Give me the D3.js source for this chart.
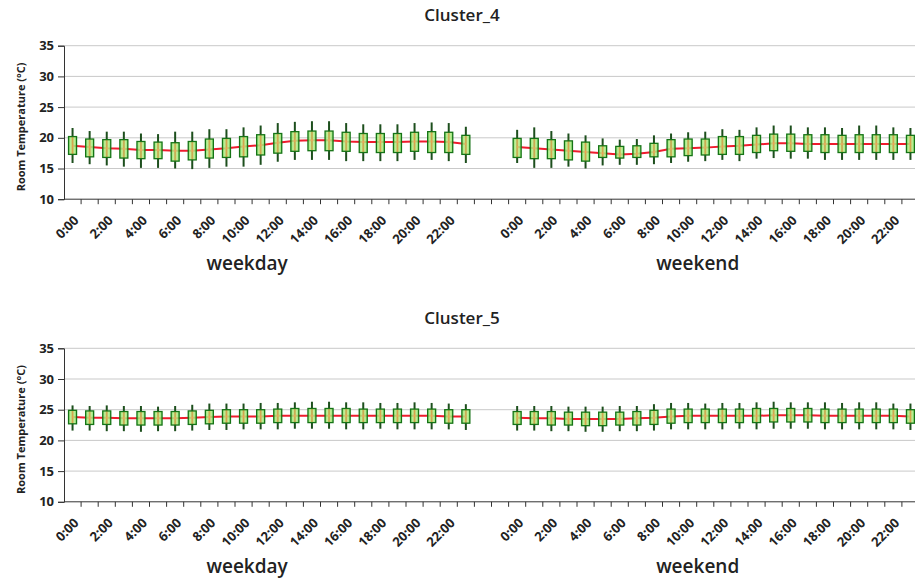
<!DOCTYPE html>
<html>
<head>
<meta charset="utf-8">
<script src="https://cdn.jsdelivr.net/npm/d3@7/dist/d3.min.js"></script>
<style>
  body { margin: 0; background: #fff; }
  svg { display: block; font-family: 'Open Sans', sans-serif; }
</style>
</head>
<body>
<div id="chart"></div>
<script>
// hours of the day, one box per hour
const hours = ['0:00', '1:00', '2:00', '3:00', '4:00', '5:00', '6:00', '7:00', '8:00', '9:00', '10:00', '11:00',
  '12:00', '13:00', '14:00', '15:00', '16:00', '17:00', '18:00', '19:00', '20:00', '21:00', '22:00', '23:00']
const periods = ['weekday', 'weekend']
const gapSlots = ['gap1', 'gap2']
const yTicks = [10, 15, 20, 25, 30, 35]
const clusterNames = ['Cluster_4', 'Cluster_5']

// Cluster_4 weekday
const c4WeekdayMean = [18.7, 18.5, 18.3, 18.2, 18.0, 18.0, 17.9, 17.9, 18.1, 18.3, 18.6, 18.8, 19.2, 19.5, 19.6, 19.6, 19.4, 19.3, 19.3, 19.3, 19.4, 19.4, 19.3, 19.0]
const c4WeekdayQ3 = [20.2, 19.8, 19.7, 19.7, 19.4, 19.3, 19.2, 19.4, 19.8, 19.9, 20.2, 20.5, 20.7, 21.0, 21.1, 21.1, 20.9, 20.7, 20.7, 20.7, 20.9, 21.0, 20.9, 20.4]
const c4WeekdayQ1 = [17.3, 16.9, 16.8, 16.7, 16.6, 16.6, 16.2, 16.4, 16.7, 16.8, 16.9, 17.2, 17.5, 17.8, 17.9, 17.9, 17.8, 17.6, 17.6, 17.6, 17.8, 17.6, 17.6, 17.3]
const c4WeekdayMax = [21.6, 21.1, 21.0, 21.0, 20.7, 20.6, 21.0, 21.0, 21.4, 21.4, 21.7, 22.0, 22.4, 22.6, 22.7, 22.7, 22.4, 22.2, 22.2, 22.2, 22.4, 22.5, 22.4, 21.8]
const c4WeekdayMin = [15.9, 15.7, 15.5, 15.3, 15.1, 15.1, 15.0, 14.9, 15.1, 15.3, 15.3, 15.6, 16.1, 16.4, 16.4, 16.4, 16.2, 16.2, 16.2, 16.2, 16.4, 16.4, 16.2, 15.9]

// Cluster_4 weekend
const c4WeekendMean = [18.5, 18.3, 18.1, 17.9, 17.7, 17.5, 17.3, 17.4, 17.7, 18.2, 18.3, 18.4, 18.6, 18.7, 18.9, 19.1, 19.1, 19.0, 19.0, 19.0, 19.0, 19.0, 19.0, 19.0]
const c4WeekendQ3 = [19.9, 19.9, 19.7, 19.5, 19.3, 18.7, 18.6, 18.7, 19.1, 19.7, 19.8, 19.8, 20.2, 20.2, 20.4, 20.6, 20.6, 20.5, 20.5, 20.4, 20.5, 20.5, 20.5, 20.4]
const c4WeekendQ1 = [16.8, 16.6, 16.6, 16.4, 16.2, 16.8, 16.7, 16.8, 16.9, 16.9, 17.1, 17.2, 17.3, 17.3, 17.6, 17.9, 17.8, 17.8, 17.6, 17.6, 17.6, 17.6, 17.6, 17.6]
const c4WeekendMax = [21.3, 21.7, 21.1, 20.7, 20.4, 19.9, 19.7, 19.8, 20.4, 20.7, 20.9, 21.0, 21.4, 21.3, 21.7, 22.0, 22.0, 21.7, 21.7, 21.6, 22.0, 22.0, 21.7, 21.6]
const c4WeekendMin = [15.9, 15.1, 15.1, 15.3, 15.0, 15.5, 15.6, 15.6, 15.7, 15.9, 16.1, 16.2, 16.4, 16.2, 16.6, 16.7, 16.6, 16.6, 16.4, 16.4, 16.4, 16.4, 16.4, 16.4]

// Cluster_5 weekday
const c5WeekdayMean = [23.8, 23.7, 23.7, 23.6, 23.6, 23.6, 23.6, 23.7, 23.8, 23.9, 23.9, 23.9, 24.0, 24.0, 24.0, 24.0, 24.0, 24.0, 24.0, 24.0, 24.0, 24.0, 23.9, 23.9]
const c5WeekdayQ3 = [24.9, 24.8, 24.8, 24.7, 24.7, 24.7, 24.7, 24.8, 24.9, 25.0, 25.0, 25.0, 25.1, 25.2, 25.2, 25.2, 25.2, 25.1, 25.1, 25.1, 25.1, 25.1, 25.0, 25.0]
const c5WeekdayQ1 = [22.7, 22.6, 22.6, 22.5, 22.5, 22.5, 22.5, 22.6, 22.7, 22.8, 22.8, 22.8, 22.9, 22.9, 22.9, 22.9, 22.9, 22.9, 22.9, 22.9, 22.9, 22.9, 22.8, 22.8]
const c5WeekdayMax = [25.7, 25.6, 25.7, 25.6, 25.6, 25.5, 25.6, 25.8, 26.0, 26.0, 26.0, 26.1, 26.1, 26.2, 26.3, 26.3, 26.2, 26.2, 26.1, 26.1, 26.2, 26.1, 26.0, 25.9]
const c5WeekdayMin = [21.6, 21.6, 21.5, 21.5, 21.4, 21.5, 21.5, 21.6, 21.7, 21.7, 21.8, 21.8, 21.8, 21.9, 21.9, 21.9, 21.8, 21.8, 21.9, 21.8, 21.8, 21.8, 21.8, 21.7]

// Cluster_5 weekend
const c5WeekendMean = [23.7, 23.6, 23.6, 23.5, 23.5, 23.5, 23.5, 23.6, 23.7, 23.9, 24.0, 24.0, 24.0, 24.0, 24.0, 24.1, 24.1, 24.1, 24.0, 24.0, 24.0, 24.0, 24.0, 23.9]
const c5WeekendQ3 = [24.7, 24.7, 24.7, 24.6, 24.6, 24.6, 24.6, 24.7, 24.9, 25.1, 25.1, 25.1, 25.1, 25.1, 25.2, 25.2, 25.2, 25.2, 25.1, 25.1, 25.1, 25.1, 25.1, 25.0]
const c5WeekendQ1 = [22.6, 22.6, 22.5, 22.5, 22.4, 22.4, 22.5, 22.5, 22.6, 22.8, 22.9, 22.9, 22.9, 22.9, 22.9, 23.0, 23.0, 23.0, 22.9, 22.9, 22.9, 22.9, 22.9, 22.8]
const c5WeekendMax = [25.6, 25.6, 25.6, 25.5, 25.5, 25.5, 25.6, 25.6, 25.9, 26.1, 26.1, 26.0, 26.1, 26.1, 26.2, 26.3, 26.2, 26.2, 26.2, 26.1, 26.2, 26.2, 26.0, 26.0]
const c5WeekendMin = [21.6, 21.6, 21.5, 21.5, 21.4, 21.4, 21.5, 21.5, 21.6, 21.8, 21.8, 21.8, 21.8, 21.9, 21.8, 21.9, 21.9, 21.9, 21.8, 21.8, 21.8, 21.8, 21.8, 21.7]

// build rows for each panel / period
const makeRows = (period, mean, q1, q3, min, max) =>
  hours.map((h, i) => ({ key: period + ' ' + h, hour: h, mean: mean[i], q1: q1[i], q3: q3[i], min: min[i], max: max[i] }))

const panels = [
  {
    title: clusterNames[0],
    series: [
      makeRows('weekday', c4WeekdayMean, c4WeekdayQ1, c4WeekdayQ3, c4WeekdayMin, c4WeekdayMax),
      makeRows('weekend', c4WeekendMean, c4WeekendQ1, c4WeekendQ3, c4WeekendMin, c4WeekendMax)
    ]
  },
  {
    title: clusterNames[1],
    series: [
      makeRows('weekday', c5WeekdayMean, c5WeekdayQ1, c5WeekdayQ3, c5WeekdayMin, c5WeekdayMax),
      makeRows('weekend', c5WeekendMean, c5WeekendQ1, c5WeekendQ3, c5WeekendMin, c5WeekendMax)
    ]
  }
]

const categories = [
  ...hours.map(h => 'weekday ' + h),
  ...gapSlots,
  ...hours.map(h => 'weekend ' + h)
]

const dims = {
  width: 915,
  height: 588,
  left: 64,
  band: 17.1,
  firstTop: 45.7,
  panelStep: 302.6,
  plotHeight: 153.5
}

const svg = d3.select('#chart')
  .append('svg')
  .attr('width', dims.width)
  .attr('height', dims.height)

// box fill: green edges, warm centre
const grad = svg.append('defs').append('linearGradient')
  .attr('id', 'boxFill')
  .attr('x1', '0%').attr('x2', '100%')
  .attr('y1', '0%').attr('y2', '0%')
grad.append('stop').attr('offset', '0%').attr('stop-color', '#6fe05a')
grad.append('stop').attr('offset', '30%').attr('stop-color', '#b9ec86')
grad.append('stop').attr('offset', '50%').attr('stop-color', '#f3b453')
grad.append('stop').attr('offset', '70%').attr('stop-color', '#b9ec86')
grad.append('stop').attr('offset', '100%').attr('stop-color', '#6fe05a')

const xScale = d3.scaleBand()
  .domain(categories)
  .range([dims.left, dims.left + categories.length * dims.band])
  .paddingInner(0)

const boxW = 8

panels.forEach((panel, pi) => {
  const top = dims.firstTop + pi * dims.panelStep
  const bottom = top + dims.plotHeight
  const g = svg.append('g')

  const yScale = d3.scaleLinear()
    .domain([10, 35])
    .range([bottom, top])

  // gridlines
  g.append('g')
    .selectAll('line')
    .data(yTicks.filter(t => t > 10))
    .join('line')
    .attr('x1', dims.left)
    .attr('x2', xScale.range()[1])
    .attr('y1', d => yScale(d))
    .attr('y2', d => yScale(d))
    .attr('stroke', '#c9c9c9')
    .attr('stroke-width', 1)

  // y axis
  const yAxis = d3.axisLeft(yScale).tickValues(yTicks).tickSize(6).tickPadding(4)
  const yAxisGroup = g.append('g')
    .attr('transform', `translate(${dims.left},0)`)
    .call(yAxis)
  yAxisGroup.select('.domain').attr('stroke', '#333')
  yAxisGroup.selectAll('.tick line').attr('stroke', '#333')
  yAxisGroup.selectAll('.tick text')
    .attr('font-family', "'Open Sans', sans-serif")
    .attr('font-size', '13px')
    .attr('font-weight', 'bold')
    .attr('fill', '#222')

  // y axis title
  g.append('text')
    .attr('transform', `translate(25,${(top + bottom) / 2 + 4.5}) rotate(-90)`)
    .attr('text-anchor', 'middle')
    .attr('font-size', '11px')
    .attr('font-weight', 'bold')
    .attr('fill', '#222')
    .text('Room Temperature (°C)')

  // x axis baseline and boundary ticks
  g.append('line')
    .attr('x1', dims.left)
    .attr('x2', xScale.range()[1])
    .attr('y1', bottom)
    .attr('y2', bottom)
    .attr('stroke', '#333')
  g.append('g')
    .selectAll('line')
    .data(categories)
    .join('line')
    .attr('x1', d => xScale(d) + xScale.bandwidth())
    .attr('x2', d => xScale(d) + xScale.bandwidth())
    .attr('y1', bottom)
    .attr('y2', bottom + 5)
    .attr('stroke', '#333')

  // hour labels every two hours
  const labelCats = categories.filter(c => {
    const h = c.split(' ')[1]
    return h && hours.indexOf(h) % 2 === 0
  })
  const xAxis = d3.axisBottom(xScale).tickValues(labelCats).tickSize(0).tickFormat(d => d.split(' ')[1])
  const xAxisGroup = g.append('g')
    .attr('transform', `translate(0,${bottom})`)
    .call(xAxis)
  xAxisGroup.select('.domain').remove()
  xAxisGroup.selectAll('.tick text')
    .attr('font-family', "'Open Sans', sans-serif")
    .attr('font-size', '13px')
    .attr('font-weight', 'bold')
    .attr('fill', '#222')
    .attr('text-anchor', 'end')
    .attr('y', 0)
    .attr('dy', 0)
    .attr('transform', 'translate(7,22) rotate(-45)')

  // period labels under the hours
  const periodOffset = [-5, 1]
  g.append('g')
    .selectAll('text')
    .data(periods)
    .join('text')
    .attr('x', (d, i) => xScale(d + ' 11:00') + periodOffset[i])
    .attr('y', bottom + 71)
    .attr('text-anchor', 'middle')
    .attr('font-size', '19px')
    .attr('font-weight', 600)
    .attr('fill', '#222')
    .text(d => d)

  // title
  g.append('text')
    .attr('x', 462)
    .attr('y', top - 24.5)
    .attr('text-anchor', 'middle')
    .attr('font-size', '17px')
    .attr('font-weight', 600)
    .attr('fill', '#222')
    .text(panel.title)

  const cx = d => xScale(d.key) + xScale.bandwidth() / 2

  const line = d3.line()
    .x(cx)
    .y(d => yScale(d.mean))

  panel.series.forEach(rows => {
    // whiskers
    g.append('g')
      .selectAll('line')
      .data(rows)
      .join('line')
      .attr('x1', cx)
      .attr('x2', cx)
      .attr('y1', d => yScale(d.max))
      .attr('y2', d => yScale(d.min))
      .attr('stroke', '#1d4f1d')
      .attr('stroke-width', 2)

    // mean line
    g.append('path')
      .datum(rows)
      .attr('d', line)
      .attr('fill', 'none')
      .attr('stroke', '#ee1c2e')
      .attr('stroke-width', 2)

    // boxes
    g.append('g')
      .selectAll('rect')
      .data(rows)
      .join('rect')
      .attr('x', d => cx(d) - boxW / 2)
      .attr('width', boxW)
      .attr('y', d => yScale(d.q3))
      .attr('height', d => yScale(d.q1) - yScale(d.q3))
      .attr('fill', 'url(#boxFill)')
      .attr('fill-opacity', 0.85)
      .attr('stroke', '#167316')
      .attr('stroke-width', 1.3)
  })
})
</script>
</body>
</html>
